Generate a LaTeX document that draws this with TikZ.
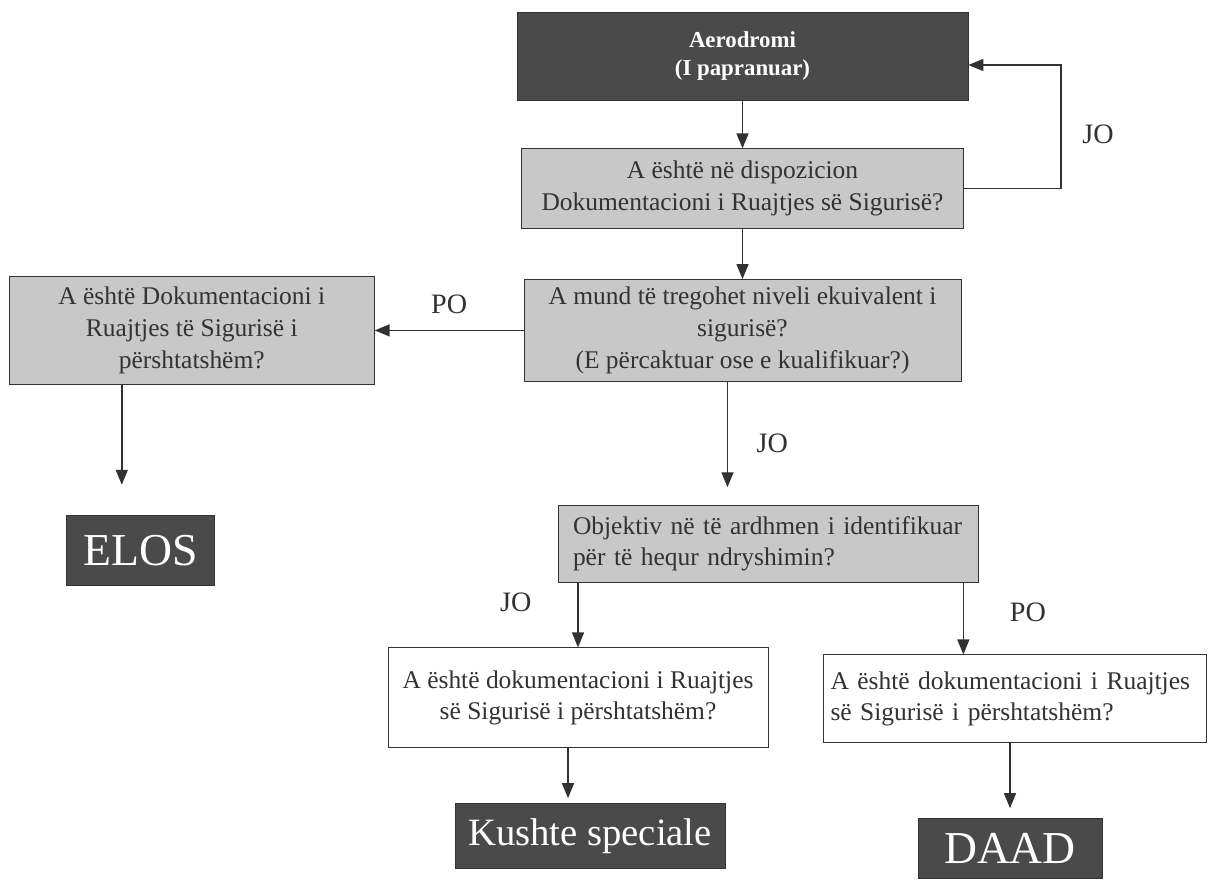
\documentclass[tikz,border=0pt]{standalone}
\usepackage{fontspec}
\setmainfont{Liberation Serif}
\usetikzlibrary{arrows.meta, positioning}
\definecolor{boxdark}{RGB}{74,74,74}
\definecolor{boxlight}{RGB}{200,200,200}
\definecolor{inkgray}{RGB}{50,50,50}
\tikzset{
    startbox/.style={rectangle, minimum width=9.02cm, minimum height=1.76cm, text centered, draw=black!80, fill=boxdark, text=white, font=\fontsize{13}{16}\selectfont\bfseries, align=center},
    question/.style={rectangle, text centered, draw=black!80, fill=boxlight, text=inkgray, font=\fontsize{14.5}{18}\selectfont, align=center},
    checkbox/.style={rectangle, text centered, draw=black!80, fill=white, text=inkgray, font=\fontsize{14.5}{18}\selectfont, align=center},
    outcome/.style={rectangle, text centered, draw=black!80, fill=boxdark, text=white, font=\fontsize{26}{30}\selectfont},
    answer/.style={text=inkgray, font=\fontsize{16}{18}\selectfont},
    arrow/.style={thick, draw=inkgray, -{Triangle[length=3mm, width=2.4mm]}}
}
\begin{document}
\begin{tikzpicture}
    \fill [white] (0,0) rectangle (24.22,-17.58);
    \node (aero) [startbox] at (14.85,-1.12) {Aerodromi\\(I papranuar)};
    \node (avail) [question, minimum width=8.84cm, minimum height=1.6cm, below=0.96cm of aero] {A është në dispozicion\\Dokumentacioni i Ruajtjes së Sigurisë?};
    \node (equiv) [question, minimum width=8.74cm, minimum height=2.04cm, below=1.0cm of avail] {A mund të tregohet niveli ekuivalent i\\sigurisë?\\(E përcaktuar ose e kualifikuar?)};
    \node (suit) [question, minimum width=7.3cm, minimum height=2.16cm, left=2.98cm of equiv] {A është Dokumentacioni i\\Ruajtjes të Sigurisë i\\përshtatshëm?};
    \node (elos) [outcome, minimum width=2.96cm, minimum height=1.4cm, below=2.6cm of suit, xshift=-1.03cm] {ELOS};
    \node (target) [question, align=left, text width=7.8cm, inner xsep=0.3cm, minimum height=1.54cm, below=2.46cm of equiv, xshift=0.51cm] {Objektiv në të ardhmen i identifikuar\\për të hequr ndryshimin?};
    \node (docno) [checkbox, minimum width=7.6cm, minimum height=2.0cm, below=1.3cm of target, xshift=-3.8cm] {A është dokumentacioni i Ruajtjes\\së Sigurisë i përshtatshëm?};
    \node (docyes) [checkbox, align=left, text width=7.36cm, inner xsep=0.15cm, minimum height=1.76cm, below=1.44cm of target, xshift=4.93cm] {A është dokumentacioni i Ruajtjes\\së Sigurisë i përshtatshëm?};
    \node (special) [outcome, font=\fontsize{22}{26}\selectfont, minimum width=5.4cm, minimum height=1.3cm, below=1.1cm of docno, xshift=0.24cm] {Kushte speciale};
    \node (daad) [outcome, minimum width=3.68cm, minimum height=1.2cm, below=1.5cm of docyes, xshift=-0.09cm] {DAAD};

    \draw [arrow] (aero) -- (avail);
    \draw [arrow] (avail) -- (equiv);
    \draw [arrow] (avail.east) -- ++(1.94,0) |- node (jotop) [answer, pos=0.22, right=0.3cm] {JO} ([yshift=-0.18cm]aero.east);
    \draw [arrow] (equiv.west) -- node (pomid) [answer, above=0.2cm] {PO} (suit.east);
    \draw [arrow, shorten >=0.6cm] ([xshift=-1.4cm]suit.south) -- ([xshift=-1.4cm]suit.south |- elos.north);
    \draw [arrow, shorten >=0.35cm] ([xshift=-0.3cm]equiv.south) -- node (jomid) [answer, right=0.45cm] {JO} ([xshift=-0.3cm]equiv.south |- target.north);
    \draw [arrow] (target.south -| docno) -- node (jolow) [answer, pos=0.3, left=0.8cm] {JO} (docno);
    \draw [arrow] ([xshift=-0.3cm]target.south east) -- node (polow) [answer, pos=0.42, right=0.8cm] {PO} ([xshift=-0.3cm]target.south east |- docyes.north);
    \draw [arrow, shorten >=0.1cm] ([xshift=-0.2cm]docno.south) -- ([xshift=-0.2cm]docno.south |- special.north);
    \draw [arrow, shorten >=0.2cm] (docyes.south -| daad) -- (daad);
\end{tikzpicture}
\end{document}
